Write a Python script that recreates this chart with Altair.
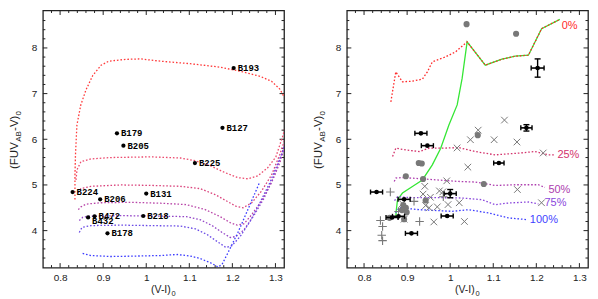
import altair as alt
import pandas as pd

W, H = 242, 258
X_DOMAIN = [0.76, 1.32]
Y_DOMAIN = [3.19, 8.82]
SANS = "Liberation Sans"
MONO = "Liberation Mono"
INK = "#222222"

# ---------------- axis ticks ----------------
x_major = [0.8, 0.9, 1.0, 1.1, 1.2, 1.3]
x_minor = [0.78, 0.82, 0.84, 0.86, 0.88, 0.92, 0.94, 0.96, 0.98, 1.02, 1.04, 1.06,
           1.08, 1.12, 1.14, 1.16, 1.18, 1.22, 1.24, 1.26, 1.28]
y_major = [4, 5, 6, 7, 8]
y_minor = [3.4, 3.6, 3.8, 4.2, 4.4, 4.6, 4.8, 5.2, 5.4, 5.6, 5.8, 6.2, 6.4, 6.6, 6.8,
           7.2, 7.4, 7.6, 7.8, 8.2, 8.4, 8.6]

x_title = ["(V-I)", "0"]
y_title = ["(FUV", "AB", "-V)", "0"]

# ---------------- left panel: model curves ----------------
left_names = ["c0", "c1", "c2", "c3", "c4", "c5", "c6"]
left_colors = ["#ff3a3a", "#ec4a6e", "#da437c", "#b845a8", "#9446c8", "#6a4ae6", "#3c3cff"]
left_x = [
    [0.8345, 0.8345, 0.8357, 0.839, 0.848, 0.860, 0.876, 0.895, 0.913, 0.952, 0.987, 1.033,
     1.102, 1.171, 1.218, 1.264, 1.291, 1.310, 1.322],
    [0.8369, 0.8392, 0.8484, 0.8715, 0.9176, 1.010, 1.079, 1.114, 1.149, 1.183, 1.213, 1.236,
     1.259, 1.282, 1.301, 1.317, 1.322],
    [0.8415, 0.8484, 0.8715, 0.9407, 1.010, 1.079, 1.125, 1.160, 1.190, 1.208, 1.225, 1.245,
     1.268, 1.291, 1.310, 1.322],
    [0.8422, 0.8484, 0.860, 0.8945, 0.9638, 1.033, 1.093, 1.137, 1.171, 1.195, 1.211, 1.227,
     1.245, 1.268, 1.291, 1.310, 1.322],
    [0.8445, 0.853, 0.8715, 0.9407, 1.033, 1.093, 1.125, 1.153, 1.176, 1.195, 1.208, 1.227,
     1.250, 1.273, 1.296, 1.314, 1.322],
    [0.8445, 0.8507, 0.8715, 0.9407, 1.010, 1.079, 1.114, 1.142, 1.165, 1.185, 1.199, 1.218,
     1.241, 1.264, 1.287, 1.310, 1.322],
    [0.8523, 0.8715, 0.9176, 0.9637, 1.033, 1.072, 1.102, 1.125, 1.149, 1.167, 1.176, 1.190,
     1.213, 1.236, 1.262],
]
left_y = [
    [4.68, 5.22, 5.66, 6.31, 6.75, 7.08, 7.40, 7.62, 7.71, 7.75, 7.76, 7.71, 7.655, 7.58,
     7.49, 7.38, 7.27, 7.10, 6.90],
    [5.11, 5.33, 5.51, 5.57, 5.60, 5.615, 5.59, 5.53, 5.42, 5.27, 5.16, 5.135, 5.20, 5.375,
     5.615, 6.07, 6.25],
    [4.83, 4.92, 4.97, 5.00, 4.99, 4.97, 4.92, 4.79, 4.63, 4.535, 4.50, 4.61, 4.87, 5.22,
     5.66, 6.00],
    [4.46, 4.52, 4.58, 4.61, 4.62, 4.60, 4.57, 4.46, 4.31, 4.175, 4.12, 4.15, 4.35, 4.655,
     5.05, 5.48, 5.85],
    [4.22, 4.295, 4.317, 4.328, 4.317, 4.306, 4.24, 4.11, 3.96, 3.85, 3.87, 4.02, 4.33, 4.70,
     5.18, 5.66, 5.90],
    [3.96, 4.07, 4.11, 4.12, 4.11, 4.10, 4.04, 3.91, 3.76, 3.63, 3.67, 3.87, 4.20, 4.61,
     5.05, 5.57, 5.85],
    [3.50, 3.455, 3.433, 3.44, 3.455, 3.477, 3.444, 3.39, 3.296, 3.204, 3.26, 3.52, 3.96,
     4.46, 5.03],
]

# ---------------- observed clusters (both panels) ----------------
names = ["B193", "B127", "B179", "B205", "B225", "B224", "B131", "B206", "B472", "B432",
         "B218", "B178"]
obs_x = [1.203, 1.177, 0.932, 0.947, 1.113, 0.829, 1.000, 0.893, 0.880, 0.865, 0.993, 0.910]
obs_y = [7.56, 6.25, 6.13, 5.86, 5.48, 4.845, 4.81, 4.685, 4.313, 4.288, 4.32, 3.94]
obs_xerr = [0.015, 0.013, 0.014, 0.014, 0.012, 0.014, 0.014, 0.014, 0.014, 0.014, 0.014,
            0.014]
obs_yerr = [0.20, 0.07, 0.02, 0.02, 0.02, 0.02, 0.09, 0.02, 0.02, 0.02, 0.02, 0.02]

# ---------------- right panel: model tracks ----------------
pct = ["0%", "25%", "50%", "75%", "100%"]
pct_colors = ["#ff2a2a", "#d3336c", "#ad3cae", "#8a47dc", "#3f3fff"]
pct_x = [
    [0.8622, 0.8737, 0.8892, 0.9123, 0.9354, 0.947, 0.9585, 0.9892, 1.0123, 1.0393, 1.0815,
     1.120, 1.1507, 1.1816, 1.2123, 1.2546],
    [0.8662, 0.8738, 0.8969, 0.9278, 0.9509, 0.9816, 1.0201, 1.0585, 1.1046, 1.1586, 1.1969,
     1.2278, 1.2431],
    [0.8701, 0.8738, 0.8892, 0.9661, 1.0201, 1.0585, 1.1046, 1.1508, 1.2048, 1.220],
    [0.8708, 0.8777, 0.9123, 0.9816, 1.0277, 1.0739, 1.1046, 1.1355, 1.1817, 1.2048],
    [0.8731, 0.8816, 0.9278, 1.0047, 1.0432, 1.0894, 1.1355, 1.1778],
]
pct_y = [
    [6.82, 7.476, 7.258, 7.273, 7.317, 7.476, 7.695, 7.804, 7.913, 8.131, 7.622, 7.753,
     7.819, 7.841, 8.423, 8.626],
    [5.622, 5.805, 5.768, 5.731, 5.805, 5.805, 5.818, 5.731, 5.659, 5.696, 5.731, 5.659,
     5.659],
    [5.076, 5.15, 5.163, 5.113, 5.076, 5.063, 4.989, 5.004, 5.004, 4.945],
    [4.655, 4.742, 4.721, 4.721, 4.714, 4.677, 4.568, 4.605, 4.627, 4.583],
    [4.393, 4.502, 4.459, 4.422, 4.459, 4.386, 4.278, 4.241],
]
pct_label_x = [1.259, 1.249, 1.228, 1.219, 1.185]
pct_label_y = [8.49, 5.66, 4.89, 4.60, 4.24]

green_x = [0.8738, 0.8745, 0.8777, 0.8892, 0.9123, 0.9354, 0.9585, 0.978, 0.997, 1.0162,
           1.0277, 1.0393, 1.0815, 1.120, 1.1507, 1.1816, 1.2123, 1.2546]
green_y = [4.28, 4.42, 4.677, 4.823, 4.967, 5.11, 5.44, 5.805, 6.313, 6.752, 7.332, 8.131,
           7.622, 7.753, 7.819, 7.841, 8.423, 8.626]

# ---------------- right panel: comparison samples ----------------
circ_x = [1.038, 1.153, 1.064, 0.927, 0.934, 0.897, 0.937, 1.078, 0.943, 0.891, 0.897,
          0.888, 0.899, 0.859, 0.893]
circ_y = [8.52, 8.31, 6.09, 5.48, 5.47, 5.19, 5.13, 5.02, 4.66, 4.56, 4.50, 4.45, 4.40,
          4.28, 4.25]
cross_x = [1.065, 1.047, 1.126, 1.102, 1.155, 1.016, 1.216, 1.041, 0.992, 0.941, 0.975,
           0.983, 0.937, 0.954, 1.156, 0.943, 0.951, 0.970, 0.995, 1.021, 1.212, 0.962,
           1.033, 0.893, 0.889]
cross_y = [6.20, 5.99, 6.42, 5.99, 5.94, 5.81, 5.70, 5.39, 5.09, 4.97, 4.87, 4.85, 4.80,
           4.73, 4.90, 4.55, 4.50, 4.52, 4.57, 4.61, 4.61, 4.19, 4.20, 4.25, 4.59]
plus_x = [0.861, 0.838, 0.843, 0.841, 0.843, 0.929, 0.916, 0.880, 0.984]
plus_y = [4.845, 4.22, 4.09, 3.90, 3.78, 4.20, 4.64, 4.42, 4.74]

# ---------------- helpers ----------------
xsc = alt.Scale(domain=X_DOMAIN, nice=False, zero=False)
ysc = alt.Scale(domain=Y_DOMAIN, nice=False, zero=False)
xax = alt.Axis(values=x_major, format="~g", ticks=False, domain=False, grid=False,
               labelPadding=5, title=None)
yax = alt.Axis(values=y_major, format="d", ticks=False, domain=False, grid=False,
               labelPadding=6, title=None)


def X(f):
    return alt.X(f, type="quantitative", scale=xsc, axis=xax)


def Y(f):
    return alt.Y(f, type="quantitative", scale=ysc, axis=yax)


def frame_ticks():
    out = []
    for vals, L in ((x_major, 4.5), (x_minor, 2.5)):
        b = alt.Chart(pd.DataFrame({"v": vals})).mark_rule(color=INK, strokeWidth=1)
        out.append(b.encode(x=X("v"), y=alt.value(H), y2=alt.value(H - L)))
        out.append(b.encode(x=X("v"), y=alt.value(0), y2=alt.value(L)))
    for vals, L in ((y_major, 4.5), (y_minor, 2.5)):
        b = alt.Chart(pd.DataFrame({"v": vals})).mark_rule(color=INK, strokeWidth=1)
        out.append(b.encode(y=Y("v"), x=alt.value(0), x2=alt.value(L)))
        out.append(b.encode(y=Y("v"), x=alt.value(W), x2=alt.value(W - L)))
    return out


def titles():
    out = []
    # y title, rotated, built from parts so the subscripts sit low
    y0 = H / 2 + 30
    xb = -25
    parts = [(y_title[0], 11.5, 0, 0), (y_title[1], 8, 27.3, 3),
             (y_title[2], 11.5, 38.2, 0), (y_title[3], 8, 53.6, 3)]
    for s, fs, dx, dy in parts:
        out.append(alt.Chart(pd.DataFrame({"s": [s]})).mark_text(
            angle=270, align="left", baseline="alphabetic", font=SANS, fontSize=fs,
            color=INK, dx=dx, dy=dy).encode(text="s:N", x=alt.value(xb), y=alt.value(y0)))
    x0 = W / 2 - 12.5
    yb = H + 25.5
    parts = [(x_title[0], 10.5, 0, 0), (x_title[1], 7.5, 20.6, 3)]
    for s, fs, dx, dy in parts:
        out.append(alt.Chart(pd.DataFrame({"s": [s]})).mark_text(
            align="left", baseline="alphabetic", font=SANS, fontSize=fs, color=INK,
            dx=dx, dy=dy).encode(text="s:N", x=alt.value(x0), y=alt.value(yb)))
    return out


def line_layer(xs, ys, color, dash=True, width=1.3):
    df = pd.DataFrame({"x": xs, "y": ys, "i": list(range(len(xs)))})
    kw = dict(color=color, strokeWidth=width, clip=True)
    if dash:
        kw["strokeDash"] = [1.6, 1.9]
    return alt.Chart(df).mark_line(**kw).encode(x=X("x"), y=Y("y"), order="i:Q")


obs = pd.DataFrame({
    "name": names, "x": obs_x, "y": obs_y,
    "xlo": [a - b for a, b in zip(obs_x, obs_xerr)],
    "xhi": [a + b for a, b in zip(obs_x, obs_xerr)],
    "ylo": [a - b for a, b in zip(obs_y, obs_yerr)],
    "yhi": [a + b for a, b in zip(obs_y, obs_yerr)],
    "yerr": obs_yerr,
})

# ---------------- left panel ----------------
left_layers = frame_ticks()
for n, xs, ys, c in zip(left_names, left_x, left_y, left_colors):
    left_layers.append(line_layer(xs, ys, c))
left_layers.append(alt.Chart(obs).mark_point(filled=True, shape="circle", size=18,
                                             color="black", opacity=1)
                   .encode(x=X("x"), y=Y("y")))
left_layers.append(alt.Chart(obs).transform_filter("datum.name != 'B432'")
                   .mark_text(align="left", baseline="middle", dx=4, font=MONO,
                              fontWeight="bold", fontSize=9, color="black")
                   .encode(x=X("x"), y=Y("y"), text="name:N"))
left_layers.append(alt.Chart(obs).transform_filter("datum.name == 'B432'")
                   .mark_text(align="left", baseline="middle", dx=4, dy=4, font=MONO,
                              fontWeight="bold", fontSize=9, color="black")
                   .encode(x=X("x"), y=Y("y"), text="name:N"))
left_layers += titles()
left = alt.layer(*left_layers).properties(width=W, height=H)

# ---------------- right panel ----------------
GRAY = "#787878"
right_layers = frame_ticks()
for p, xs, ys, c in zip(pct, pct_x, pct_y, pct_colors):
    if p == "0%":
        right_layers.append(line_layer(green_x, green_y, "#35e635", dash=False, width=1.3))
    right_layers.append(line_layer(xs, ys, c))
lab = pd.DataFrame({"t": pct, "x": pct_label_x, "y": pct_label_y})
for p, c in zip(pct, pct_colors):
    right_layers.append(alt.Chart(lab).transform_filter(f"datum.t == '{p}'")
                        .mark_text(align="left", baseline="middle", font=SANS, fontSize=11,
                                   color=c)
                        .encode(x=X("x"), y=Y("y"), text="t:N"))
right_layers.append(alt.Chart(pd.DataFrame({"x": circ_x, "y": circ_y}))
                    .mark_point(filled=True, shape="circle", size=38, color=GRAY, opacity=1)
                    .encode(x=X("x"), y=Y("y")))
right_layers.append(alt.Chart(pd.DataFrame({"x": cross_x, "y": cross_y}))
                    .mark_point(shape="M-1,-1L1,1M-1,1L1,-1", size=44, color=GRAY,
                                filled=False, strokeWidth=1, opacity=1)
                    .encode(x=X("x"), y=Y("y")))
right_layers.append(alt.Chart(pd.DataFrame({"x": plus_x, "y": plus_y}))
                    .mark_point(shape="M-1,0L1,0M0,-1L0,1", size=72, color=GRAY,
                                filled=False, strokeWidth=1.1, opacity=1)
                    .encode(x=X("x"), y=Y("y")))
right_layers.append(alt.Chart(obs).mark_rule(color="black", strokeWidth=1.6)
                    .encode(x=X("xlo"), x2="xhi", y=Y("y")))
right_layers.append(alt.Chart(obs).mark_tick(orient="vertical", size=5, thickness=1.4,
                                             color="black", opacity=1)
                    .encode(x=X("xlo"), y=Y("y")))
right_layers.append(alt.Chart(obs).mark_tick(orient="vertical", size=5, thickness=1.4,
                                             color="black", opacity=1)
                    .encode(x=X("xhi"), y=Y("y")))
big = alt.Chart(obs).transform_filter("datum.yerr >= 0.05")
right_layers.append(big.mark_rule(color="black", strokeWidth=1.4)
                    .encode(x=X("x"), y=Y("ylo"), y2="yhi"))
right_layers.append(big.mark_tick(orient="horizontal", size=6, thickness=1.4,
                                  color="black", opacity=1)
                    .encode(x=X("x"), y=Y("ylo")))
right_layers.append(big.mark_tick(orient="horizontal", size=6, thickness=1.4,
                                  color="black", opacity=1)
                    .encode(x=X("x"), y=Y("yhi")))
right_layers.append(alt.Chart(obs).mark_point(filled=True, shape="circle", size=22,
                                              color="black", opacity=1)
                    .encode(x=X("x"), y=Y("y")))
right_layers += titles()
right = alt.layer(*right_layers).properties(width=W, height=H)

chart = (alt.hconcat(left, right, spacing=26)
         .properties(padding={"left": 0, "top": 0, "right": 0, "bottom": 0})
         .configure_view(stroke=INK, strokeWidth=1.3)
         .configure_axis(labelFont=SANS, labelFontSize=10, labelColor=INK))

chart.save("out.html", embed_options={"renderer": "svg", "actions": False})
